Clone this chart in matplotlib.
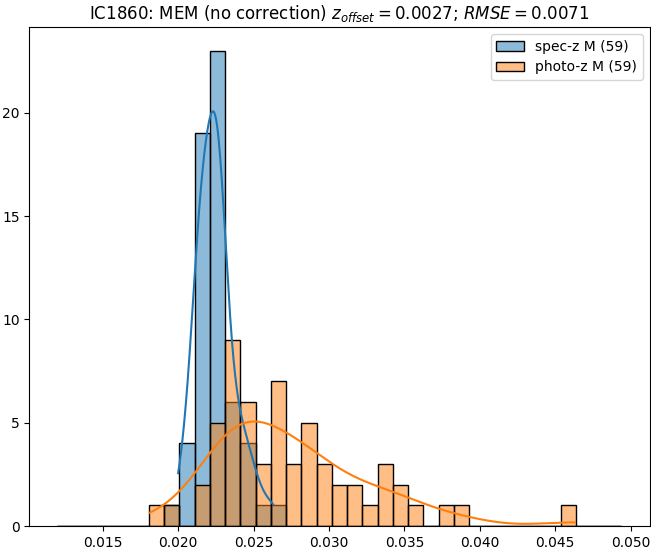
import matplotlib
matplotlib.use('Agg')
import matplotlib.pyplot as plt
from matplotlib.patches import Patch
from matplotlib.colors import to_rgba
import numpy as np
import seaborn as sns

# redshift values (59 members each)
spec_z = [0.0200,
          0.0204, 0.0206, 0.0208, 0.0210,
          0.0211, 0.0212, 0.0212, 0.0213, 0.0213, 0.0214, 0.0214, 0.0215, 0.0215, 0.0216,
          0.0216, 0.0217, 0.0217, 0.0218, 0.0218, 0.0219, 0.0219, 0.0220, 0.0220,
          0.0222, 0.0222, 0.0223, 0.0223, 0.0224, 0.0224, 0.0224, 0.0225, 0.0225, 0.0225,
          0.0226, 0.0226, 0.0226, 0.0227, 0.0227, 0.0227, 0.0228, 0.0228, 0.0229, 0.0229,
          0.0230, 0.0230, 0.0231,
          0.0233, 0.0234, 0.0236, 0.0237, 0.0239, 0.0241,
          0.0243, 0.0245, 0.0247, 0.0250,
          0.0255,
          0.0263]
photo_z = [0.01812,
           0.0196,
           0.0214, 0.0219,
           0.0223, 0.0225, 0.0227, 0.0229, 0.0231,
           0.0232, 0.0233, 0.0234, 0.0235, 0.0236, 0.0237, 0.0238, 0.0239, 0.0241,
           0.0243, 0.0245, 0.0246, 0.0248, 0.0249, 0.0251,
           0.0254, 0.0257, 0.0260,
           0.0263, 0.0264, 0.0266, 0.0267, 0.0268, 0.0270, 0.0271,
           0.0274, 0.0277, 0.0280,
           0.0284, 0.0286, 0.0288, 0.0289, 0.0291,
           0.0294, 0.0297, 0.0300,
           0.0305, 0.0309,
           0.0315, 0.0319,
           0.0327,
           0.0334, 0.0337, 0.0340,
           0.0345, 0.0349,
           0.0357,
           0.0378,
           0.0388,
           0.0463]
z_lo, z_hi, n_bins = 0.0120, 0.0494, 37   # shared bin range of the full sample

lab_spec = f'spec-z M ({len(spec_z)})'
lab_phot = f'photo-z M ({len(photo_z)})'
z_offset = 0.0027
rmse = 0.0071

bins = np.linspace(z_lo, z_hi, n_bins + 1)

fig, ax = plt.subplots(figsize=(6.51, 5.52))
fig.subplots_adjust(left=0.045, right=0.998, top=0.951, bottom=0.047)

sns.histplot(x=spec_z, bins=bins, kde=True, color='C0', alpha=0.5,
             edgecolor='black', ax=ax)
sns.histplot(x=photo_z, bins=bins, kde=True, color='C1', alpha=0.5,
             edgecolor='black', ax=ax)

ax.set_xlabel('')
ax.set_ylabel('')
ax.set_title(r'IC1860: MEM (no correction) $z_{offset} = %.4f$; $RMSE = %.4f$' % (z_offset, rmse),
             fontsize=12)

handles = [Patch(facecolor=to_rgba('C0', 0.5), edgecolor='black', label=lab_spec),
           Patch(facecolor=to_rgba('C1', 0.5), edgecolor='black', label=lab_phot)]
ax.legend(handles=handles, loc='upper right')

fig.savefig('out.png', dpi=100)
